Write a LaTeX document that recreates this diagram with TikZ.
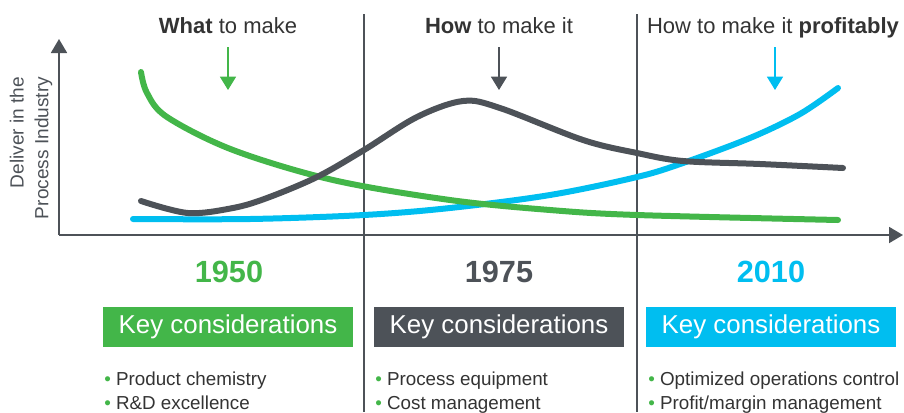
\documentclass[tikz,border=0pt]{standalone}
\usepackage{fontspec}
\setmainfont{Liberation Sans}
\usepackage{tikz}
\usetikzlibrary{positioning,arrows.meta,calc}

\definecolor{kgreen}{HTML}{43B649}
\definecolor{kdark}{HTML}{4D5258}
\definecolor{kblue}{HTML}{00BEF0}
\definecolor{ktext}{HTML}{333333}

\begin{document}
\begin{tikzpicture}[x=0.75pt,y=-0.75pt]
 \useasboundingbox (0,0) rectangle (904,412);
 \coordinate (origo) at (59,235);

\tikzstyle{curve}=[line width=4.5pt,line cap=round]
\tikzstyle{axis}=[kdark,line width=1.4pt,-{Triangle[width=12pt,length=10.5pt]}]
\tikzstyle{divider}=[kdark,line width=1.1pt]
\tikzstyle{headline}=[font=\fontsize{16.5}{18}\selectfont,text=ktext,anchor=base,inner sep=0pt]
\tikzstyle{pointer}=[line width=1.1pt,-{Triangle[width=12pt,length=10pt]}]
\tikzstyle{year}=[font=\fontsize{23}{26}\selectfont\bfseries,anchor=base,inner sep=0pt]
\tikzstyle{keybox}=[minimum width=187.5pt,minimum height=30pt,inner sep=0pt,text=white,font=\fontsize{19.4}{22}\selectfont]
\tikzstyle{bullets}=[font=\fontsize{14.1}{18}\selectfont,text=ktext,anchor=north west,inner sep=0pt,align=left]

   %axes
   \coordinate (yaxis_top) at (59,39);
   \coordinate (xaxis_end) at (903,235);
   \draw[axis] (origo) -- (yaxis_top);
   \draw[axis] (origo) -- (xaxis_end);
   \node (ylabel) [rotate=90,align=right,font=\fontsize{14.3}{18.5}\selectfont,text=kdark] at (31,148) {Deliver in the\\Process Industry};

   %dividers
   \coordinate (div1_top) at (364,14);
   \coordinate (div1_bot) at (364,412);
   \coordinate (div2_top) at (637,14);
   \coordinate (div2_bot) at (637,412);
   \draw[divider] (div1_top) -- (div1_bot);
   \draw[divider] (div2_top) -- (div2_bot);

   %headlines
   \node (what) [headline] at (228,33) {\textbf{What} to make};
   \node (how) [headline] at (499,33) {\textbf{How} to make it};
   \node (profit) [headline] at (773,33) {How to make it \textbf{profitably}};

   \coordinate (what_a) at (228,47);
   \coordinate (what_b) at (228,90);
   \coordinate (how_a) at (499,47);
   \coordinate (how_b) at (499,90);
   \coordinate (profit_a) at (775,47);
   \coordinate (profit_b) at (775,90);
   \draw[pointer,kgreen] (what_a) -- (what_b);
   \draw[pointer,kdark] (how_a) -- (how_b);
   \draw[pointer,kblue] (profit_a) -- (profit_b);

   %curves
   \draw[curve,kblue] plot[smooth,tension=0.55] coordinates {(133,219) (250,219) (364,215) (450,208) (550,195) (637,177) (683,163) (750,138) (800,114) (838,88)};
   \draw[curve,kgreen] plot[smooth,tension=0.55] coordinates {(141,72) (147,93) (167,117) (233,150) (333,180) (450,200) (550,210) (637,215) (838,220)};
   \draw[curve,kdark] plot[smooth,tension=0.55] coordinates {(141,201) (188,213) (233,208) (267,198) (317,177) (364,150) (417,117) (463,101) (500,108) (583,140) (637,153) (683,161) (760,164) (843,168)};

   %years
   \node (y1950) [year,text=kgreen] at (229,282) {1950};
   \node (y1975) [year,text=kdark] at (499,282) {1975};
   \node (y2010) [year,text=kblue] at (771,282) {2010};

   %key consideration boxes
   \node (key1) [keybox,fill=kgreen] at (228,327) {Key considerations};
   \node (key2) [keybox,fill=kdark] at (499,327) {Key considerations};
   \node (key3) [keybox,fill=kblue] at (771,327) {Key considerations};

   \node (list1) [bullets] at (104,372) {{\color{kgreen}\textbullet}\ Product chemistry\\{\color{kgreen}\textbullet}\ R\&D excellence};
   \node (list2) [bullets] at (375,372) {{\color{kgreen}\textbullet}\ Process equipment\\{\color{kgreen}\textbullet}\ Cost management};
   \node (list3) [bullets] at (648,372) {{\color{kgreen}\textbullet}\ Optimized operations control\\{\color{kgreen}\textbullet}\ Profit/margin management};

\end{tikzpicture}
\end{document}
